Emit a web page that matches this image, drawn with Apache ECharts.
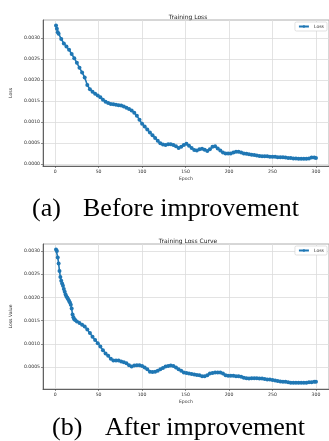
<!DOCTYPE html>
<html>
<head>
<meta charset="utf-8">
<script src="https://cdn.jsdelivr.net/npm/echarts@6/dist/echarts.min.js"></script>
<style>
  html, body { margin: 0; padding: 0; background: #fff; }
  #chart { width: 329px; height: 441px; }
</style>
</head>
<body>
<div id="chart"></div>
<script>
// (a) before improvement
const epochsBefore = [1, 2, 3, 4, 7, 10, 13, 16, 19, 22, 25, 28, 31, 34, 37, 40, 43, 46, 49, 52, 55, 58, 61, 64, 67, 70, 73, 76, 79, 82, 85, 88, 91, 94, 97, 100, 103, 106, 109, 112, 115, 118, 121, 124, 127, 130, 133, 136, 139, 142, 145, 148, 151, 154, 157, 160, 163, 166, 169, 172, 175, 178, 181, 184, 187, 190, 193, 196, 199, 202, 205, 208, 211, 214, 217, 220, 223, 226, 229, 232, 235, 238, 241, 244, 247, 250, 253, 256, 259, 262, 265, 268, 271, 274, 277, 280, 283, 286, 289, 292, 295, 298, 300];
const lossBefore = [0.00330, 0.00322, 0.00314, 0.00310, 0.00298, 0.00287, 0.00280, 0.00272, 0.00262, 0.00252, 0.00241, 0.00229, 0.00218, 0.00206, 0.00188, 0.00178, 0.00172, 0.00167, 0.00163, 0.00159, 0.00153, 0.00148, 0.00145, 0.00143, 0.00142, 0.00141, 0.00140, 0.00139, 0.00137, 0.00134, 0.00131, 0.00127, 0.00122, 0.00115, 0.00105, 0.00096, 0.00089, 0.00082, 0.00075, 0.00068, 0.00062, 0.00055, 0.00049, 0.00046, 0.00045, 0.00047, 0.00047, 0.00045, 0.00042, 0.00038, 0.00041, 0.00045, 0.00048, 0.00043, 0.00038, 0.00033, 0.00032, 0.00035, 0.00036, 0.00034, 0.00031, 0.00035, 0.00041, 0.00042, 0.00037, 0.00032, 0.00027, 0.00025, 0.00025, 0.00025, 0.00027, 0.00029, 0.00029, 0.00027, 0.00025, 0.00024, 0.00023, 0.00022, 0.00021, 0.00020, 0.00019, 0.00018, 0.00018, 0.00018, 0.00017, 0.00017, 0.00017, 0.00016, 0.00016, 0.00016, 0.00015, 0.00014, 0.00014, 0.00013, 0.00013, 0.00012, 0.00012, 0.00012, 0.00012, 0.00013, 0.00015, 0.00015, 0.00014];

// (b) after improvement
const epochsAfter = [1, 2, 3, 4, 5, 6, 7, 8, 9, 10, 11, 12, 13, 14, 15, 16, 17, 18, 19, 20, 21, 22, 23, 25, 28, 31, 34, 37, 40, 43, 46, 49, 52, 55, 58, 61, 64, 67, 70, 73, 76, 79, 82, 85, 88, 91, 94, 97, 100, 103, 106, 109, 112, 115, 118, 121, 124, 127, 130, 133, 136, 139, 142, 145, 148, 151, 154, 157, 160, 163, 166, 169, 172, 175, 178, 181, 184, 187, 190, 193, 196, 199, 202, 205, 208, 211, 214, 217, 220, 223, 226, 229, 232, 235, 238, 241, 244, 247, 250, 253, 256, 259, 262, 265, 268, 271, 274, 277, 280, 283, 286, 289, 292, 295, 298, 300];
const lossAfter = [0.00303, 0.00300, 0.00286, 0.00273, 0.00257, 0.00244, 0.00236, 0.00230, 0.00225, 0.00218, 0.00212, 0.00206, 0.00202, 0.00199, 0.00196, 0.00192, 0.00189, 0.00184, 0.00176, 0.00163, 0.00157, 0.00153, 0.00151, 0.00148, 0.00145, 0.00141, 0.00137, 0.00131, 0.00123, 0.00115, 0.00108, 0.00101, 0.00094, 0.00086, 0.00079, 0.00074, 0.00068, 0.00064, 0.00064, 0.00064, 0.00062, 0.00060, 0.00058, 0.00054, 0.00051, 0.00053, 0.00054, 0.00054, 0.00052, 0.00049, 0.00045, 0.00040, 0.00039, 0.00040, 0.00042, 0.00045, 0.00048, 0.00051, 0.00052, 0.00053, 0.00052, 0.00049, 0.00045, 0.00042, 0.00038, 0.00037, 0.00036, 0.00035, 0.00034, 0.00033, 0.00032, 0.00030, 0.00030, 0.00032, 0.00036, 0.00037, 0.00038, 0.00038, 0.00038, 0.00036, 0.00032, 0.00031, 0.00031, 0.00031, 0.00030, 0.00030, 0.00029, 0.00027, 0.00026, 0.00025, 0.00026, 0.00026, 0.00026, 0.00025, 0.00025, 0.00024, 0.00023, 0.00023, 0.00022, 0.00021, 0.00020, 0.00019, 0.00018, 0.00018, 0.00017, 0.00016, 0.00016, 0.00016, 0.00016, 0.00016, 0.00016, 0.00016, 0.00017, 0.00017, 0.00018, 0.00018];

const xTicks = [0, 50, 100, 150, 200, 250, 300];
const yTicksBefore = [0, 0.0005, 0.001, 0.0015, 0.002, 0.0025, 0.003];
const yTicksAfter = [0.0005, 0.001, 0.0015, 0.002, 0.0025, 0.003];

const blue = '#1f77b4';
const small = { fontFamily: 'DejaVu Sans', fontSize: 4.6, color: '#333' };

const chart = echarts.init(document.getElementById('chart'), null, { renderer: 'canvas' });

function xAxisFor(gridIndex) {
  return {
    type: 'value', gridIndex, min: -14, max: 315,
    name: 'Epoch', nameLocation: 'middle', nameGap: 10,
    nameTextStyle: small,
    axisLine: { show: true, onZero: false, lineStyle: { color: '#444', width: 0.8 } },
    axisTick: { show: true, length: 2, customValues: xTicks, lineStyle: { color: '#444', width: 0.6 } },
    axisLabel: { customValues: xTicks, margin: 3, ...small },
    splitLine: { show: true, lineStyle: { color: '#dcdcdc', width: 0.8 } }
  };
}

function yAxisFor(gridIndex, name, min, max, ticks) {
  return {
    type: 'value', gridIndex, min, max,
    name, nameLocation: 'middle', nameGap: 26,
    nameTextStyle: small,
    axisLine: { show: true, onZero: false, lineStyle: { color: '#444', width: 0.8 } },
    axisTick: { show: true, length: 2, customValues: ticks, lineStyle: { color: '#444', width: 0.6 } },
    axisLabel: { customValues: ticks, margin: 3, formatter: v => v.toFixed(4), ...small },
    splitLine: { show: true, lineStyle: { color: '#dcdcdc', width: 0.8 } }
  };
}

function lineSeries(i, xs, ys) {
  return {
    name: 'Loss', type: 'line', xAxisIndex: i, yAxisIndex: i,
    data: xs.map((x, k) => [x, ys[k]]),
    symbol: 'circle', symbolSize: 4, showAllSymbol: true,
    lineStyle: { color: blue, width: 1.6 },
    itemStyle: { color: blue }
  };
}

function legendFor(top) {
  return {
    data: ['Loss'], right: 2, top,
    itemWidth: 10, itemHeight: 3, itemGap: 2,
    padding: [2, 3], borderColor: '#ccc', borderWidth: 0.6, borderRadius: 1.5,
    backgroundColor: '#fff',
    textStyle: small
  };
}

const caption = { fontFamily: 'Liberation Serif', fontSize: 26, fill: '#000' };

chart.setOption({
  animation: false,
  backgroundColor: '#fff',
  title: [
    { text: 'Training Loss', left: 183, top: 9, textAlign: 'center',
      textStyle: { fontFamily: 'DejaVu Sans', fontSize: 6, fontWeight: 'normal', color: '#222' } },
    { text: 'Training Loss Curve', left: 183, top: 233, textAlign: 'center',
      textStyle: { fontFamily: 'DejaVu Sans', fontSize: 6, fontWeight: 'normal', color: '#222' } }
  ],
  legend: [legendFor(22), legendFor(246)],
  grid: [
    { left: 37, right: 0, top: 20, bottom: 275, show: true, borderColor: '#999', borderWidth: 0.8 },
    { left: 37, right: 0, top: 244, bottom: 52, show: true, borderColor: '#999', borderWidth: 0.8 }
  ],
  xAxis: [xAxisFor(0), xAxisFor(1)],
  yAxis: [
    yAxisFor(0, 'Loss', -0.00005, 0.00343, yTicksBefore),
    yAxisFor(1, 'Loss Value', 0.000026, 0.00315, yTicksAfter)
  ],
  series: [
    lineSeries(0, epochsBefore, lossBefore),
    lineSeries(1, epochsAfter, lossAfter)
  ],
  graphic: [
    { type: 'text', left: 32, top: 196, style: { text: '(a)', ...caption } },
    { type: 'text', left: 83, top: 196, style: { text: 'Before improvement', ...caption } },
    { type: 'text', left: 52, top: 415, style: { text: '(b)', ...caption } },
    { type: 'text', left: 105, top: 415, style: { text: 'After improvement', ...caption } }
  ]
});
</script>
</body>
</html>
